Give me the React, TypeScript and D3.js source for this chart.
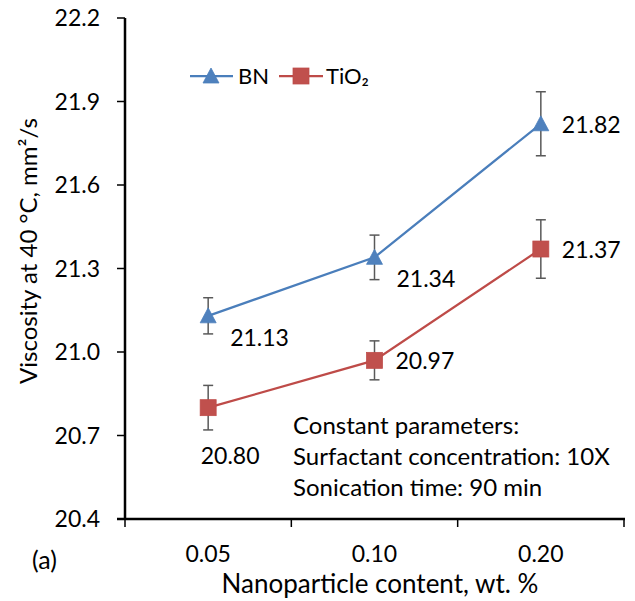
import React from 'react';
import * as d3 from 'd3';

// chart values
const categories = ['0.05', '0.10', '0.20'];
const bnValues = [21.13, 21.34, 21.82];
const tio2Values = [20.8, 20.97, 21.37];
const bnErrors = [0.065, 0.08, 0.115];
const tio2Errors = [0.08, 0.07, 0.105];
const yTicks = [20.4, 20.7, 21.0, 21.3, 21.6, 21.9, 22.2];
const noteLines = [
  'Constant parameters:',
  'Surfactant concentration: 10X',
  'Sonication time: 90 min',
];

// label placement per point (style, not data)
const bnLabelPos = ['belowRight', 'belowRight', 'right'];
const tio2LabelPos = ['below', 'right', 'right'];

const FONT = 'Lato, "Open Sans", sans-serif';
const BLUE_LINE = '#4A7EBB';
const BLUE_FILL = '#4F81BD';
const RED_LINE = '#BE4B48';
const RED_FILL = '#C0504D';
const ERR = '#595959';

const width = 635;
const height = 601;
const plot = { left: 125, right: 624, top: 18, bottom: 519 };

const App = () => {
  const x = d3.scaleBand().domain(categories).range([plot.left, plot.right]);
  const y = d3.scaleLinear().domain([20.4, 22.2]).range([plot.bottom, plot.top]);
  const cx = (c: string) => (x(c) as number) + x.bandwidth() / 2;
  const fmt = d3.format('.2f');

  const line = d3
    .line<number>()
    .x((_, i) => cx(categories[i]))
    .y(d => y(d));

  const triangle = (px: number, py: number, s = 16) =>
    `M${px},${py - s / 2} L${px + s / 2},${py + s / 2 - 1} L${px - s / 2},${py + s / 2 - 1} Z`;

  const labelXY = (pos: string, px: number, py: number) => {
    if (pos === 'right') return { lx: px + 21, ly: py + 9, anchor: 'start' };
    if (pos === 'belowRight') return { lx: px + 22, ly: py + 30, anchor: 'start' };
    return { lx: px + 22, ly: py + 56, anchor: 'middle' };
  };

  const series = [
    { name: 'BN', values: bnValues, errors: bnErrors, pos: bnLabelPos, lineColor: BLUE_LINE, fill: BLUE_FILL, marker: 'triangle' },
    { name: 'TiO2', values: tio2Values, errors: tio2Errors, pos: tio2LabelPos, lineColor: RED_LINE, fill: RED_FILL, marker: 'square' },
  ];

  const xTickPositions = [...categories.map(c => x(c) as number), plot.right];

  return (
    <svg width={width} height={height} style={{ position: 'absolute', left: 0, top: 0, background: '#fff' }}
      fontFamily={FONT}>
      {/* y axis */}
      <line x1={plot.left} x2={plot.left} y1={plot.top} y2={plot.bottom} stroke="#000" strokeWidth={2.5} />
      {yTicks.map(t => (
        <g key={t}>
          <line x1={plot.left - 8} x2={plot.left} y1={y(t)} y2={y(t)} stroke="#000" strokeWidth={1.5} />
          <text x={100} y={y(t)} dy="0.36em" textAnchor="end" fontSize={23} fill="#000">
            {d3.format('.1f')(t)}
          </text>
        </g>
      ))}
      {/* x axis */}
      <line x1={plot.left - 8} x2={plot.right + 1} y1={plot.bottom} y2={plot.bottom} stroke="#000" strokeWidth={2.5} />
      {xTickPositions.map((p, i) => (
        <line key={i} x1={p} x2={p} y1={plot.bottom} y2={plot.bottom + 8} stroke="#000" strokeWidth={1.5} />
      ))}
      {categories.map(c => (
        <text key={c} x={cx(c)} y={562} textAnchor="middle" fontSize={23} fill="#000">{c}</text>
      ))}
      <text x={380} y={593} textAnchor="middle" fontSize={26} fill="#000">Nanoparticle content, wt. %</text>
      <text transform="translate(37,251) rotate(-90)" textAnchor="middle" fontSize={24} fill="#000">
        Viscosity at 40 °C, mm²/s
      </text>
      <text x={32} y={569} fontSize={25} fill="#000">(a)</text>

      {/* series */}
      {series.map(s => (
        <g key={s.name}>
          <path d={line(s.values) || ''} fill="none" stroke={s.lineColor} strokeWidth={2.25} />
          {s.values.map((v, i) => {
            const px = cx(categories[i]);
            return (
              <g key={i} stroke={ERR} strokeWidth={1.5}>
                <line x1={px} x2={px} y1={y(v + s.errors[i])} y2={y(v - s.errors[i])} />
                <line x1={px - 5} x2={px + 5} y1={y(v + s.errors[i])} y2={y(v + s.errors[i])} />
                <line x1={px - 5} x2={px + 5} y1={y(v - s.errors[i])} y2={y(v - s.errors[i])} />
              </g>
            );
          })}
          {s.values.map((v, i) => {
            const px = cx(categories[i]);
            const py = y(v);
            return s.marker === 'triangle' ? (
              <path key={i} d={triangle(px, py)} fill={s.fill} stroke={s.lineColor} strokeWidth={0.75} />
            ) : (
              <rect key={i} x={px - 8} y={py - 8} width={16} height={16} fill={s.fill} stroke={s.lineColor} strokeWidth={0.75} />
            );
          })}
          {s.values.map((v, i) => {
            const { lx, ly, anchor } = labelXY(s.pos[i], cx(categories[i]), y(v));
            return (
              <text key={i} x={lx} y={ly} textAnchor={anchor} fontSize={23} fill="#000">{fmt(v)}</text>
            );
          })}
        </g>
      ))}

      {/* legend */}
      <line x1={190} x2={233} y1={76} y2={76} stroke={BLUE_LINE} strokeWidth={2.25} />
      <path d={triangle(211, 76)} fill={BLUE_FILL} stroke={BLUE_LINE} strokeWidth={0.75} />
      <text x={238} y={84} fontSize={22} fill="#000">BN</text>
      <line x1={279} x2={323} y1={76} y2={76} stroke={RED_LINE} strokeWidth={2.25} />
      <rect x={293} y={68} width={16} height={16} fill={RED_FILL} stroke={RED_LINE} strokeWidth={0.75} />
      <text x={326} y={84} fontSize={22} fill="#000">TiO₂</text>

      {/* note */}
      {noteLines.map((t, i) => (
        <text key={i} x={293} y={434 + i * 31} fontSize={24} fill="#000">{t}</text>
      ))}
    </svg>
  );
};

export default App;
